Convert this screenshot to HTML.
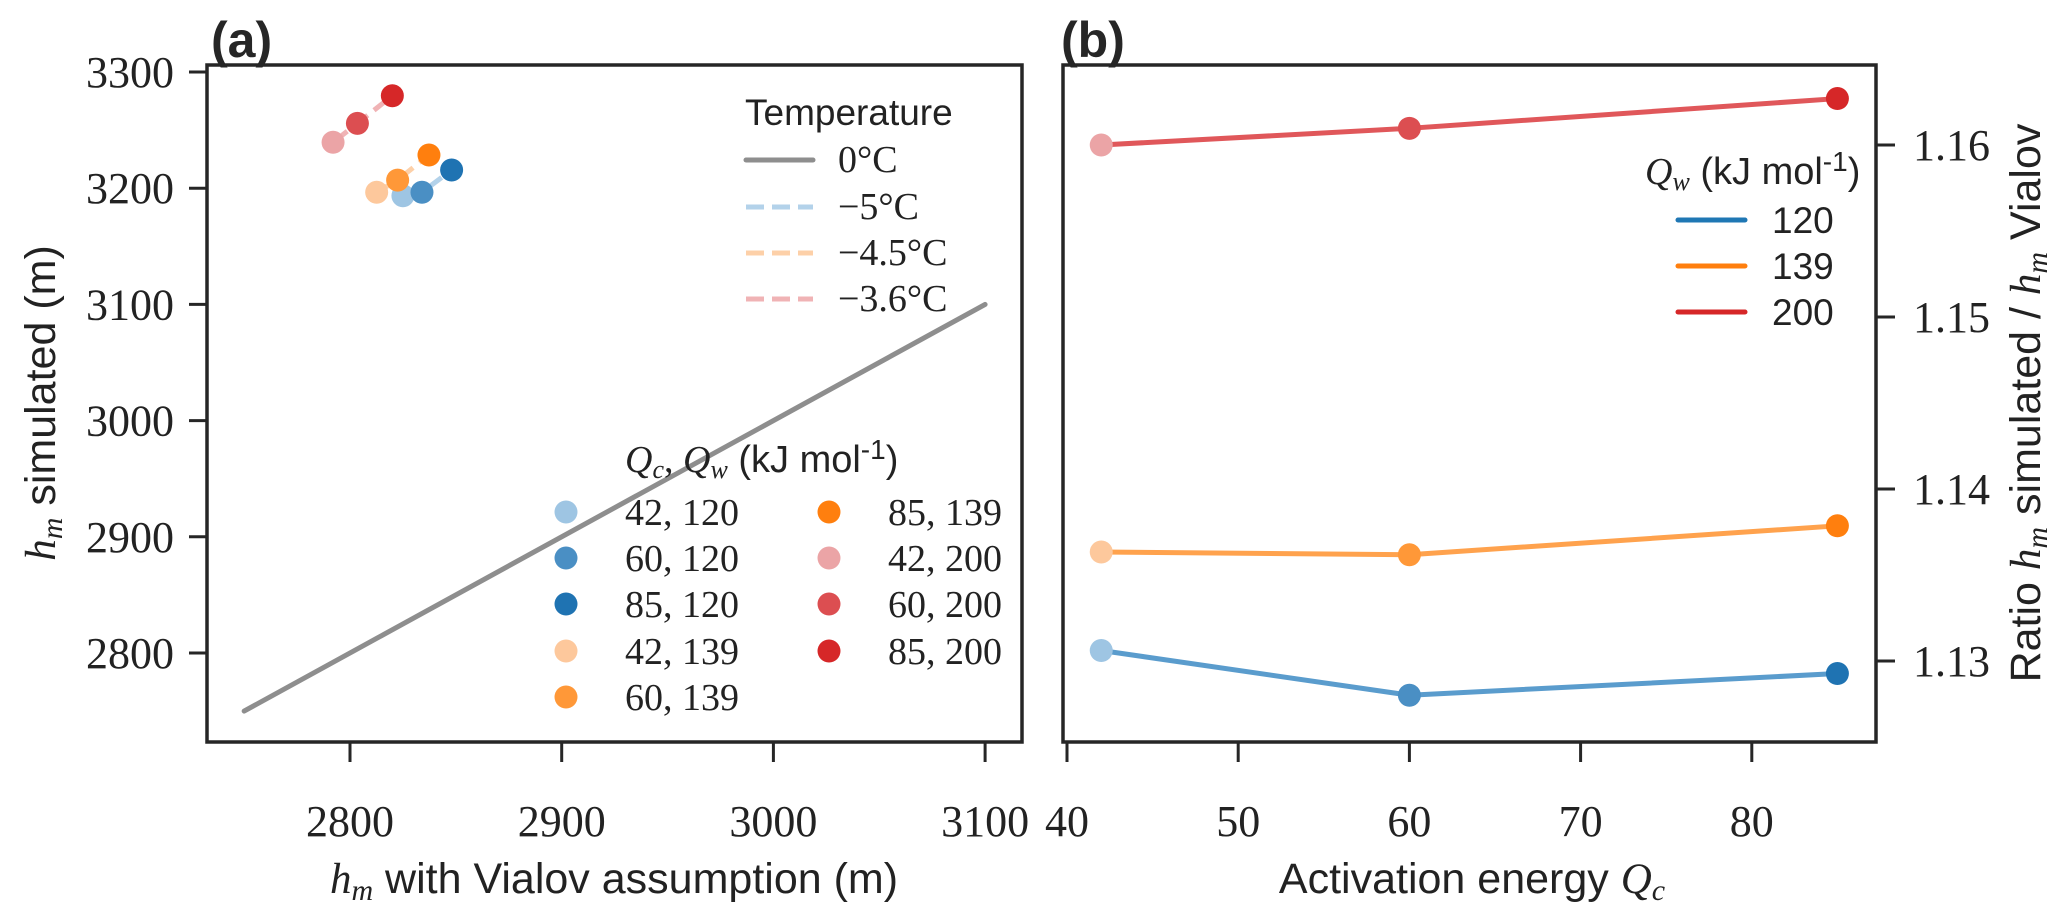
<!DOCTYPE html>
<html><head><meta charset="utf-8"><style>
html,body{margin:0;padding:0;background:#fff;}
svg{display:block;}
.tk{font-family:"Liberation Serif",serif;font-size:44px;fill:#222;}
.sans{font-family:"Liberation Sans",sans-serif;fill:#222;}
.ser{font-family:"Liberation Serif",serif;fill:#222;}
</style></head><body>
<svg id="chart" width="2067" height="921" viewBox="0 0 2067 921" xmlns="http://www.w3.org/2000/svg">
<g id="pa"></g>
<g id="pb"></g>
</svg>
<script>
// Panel (a) data
const groupsA = ["120","139","200"];
const qcA = [42,60,85];
const vialovA = [[2825,2834,2848],[2812.6,2822.5,2837.3],[2792,2803.5,2820]];
const simA = [[3193.5,3196.5,3215.7],[3196.5,3207,3228.6],[3239.5,3255.8,3279.6]];
const refLine = [2750,3100];
const xTicksA = [2800,2900,3000,3100];
const yTicksA = [2800,2900,3000,3100,3200,3300];
// Panel (b) data
const qcB = [42,60,85];
const ratio120 = [1.13061,1.12801,1.12927];
const ratio139 = [1.13634,1.13618,1.13786];
const ratio200 = [1.1600,1.16097,1.1627];
const xTicksB = [40,50,60,70,80];
const yTicksB = [1.13,1.14,1.15,1.16];
const tempLabels = ["0°C","−5°C","−4.5°C","−3.6°C"];

const NS="http://www.w3.org/2000/svg";
function mk(parent,tag,attrs,text){const e=document.createElementNS(NS,tag);for(const k in attrs)e.setAttribute(k,attrs[k]);if(text!==undefined)e.textContent=text;parent.appendChild(e);return e;}

const markerCols=[["#9ec5e3","#4a8fc4","#1f73b2"],["#fdc89c","#ff9838","#ff7f0e"],["#eba4a6","#dc4e51","#d62728"]];
const dashCols=["#b3d2ea","#fdd0a8","#f0b3b5"];
const lineColsB=["#5a9ccd","#ffa24d","#e0575a"];
const legLineB=["#1f77b4","#ff7f0e","#d62728"];

const xa=v=>350+(v-2800)*2.117;
const ya=v=>653-(v-2800)*1.162;
const pa=document.getElementById('pa');
let e;
e=mk(pa,'line',{x1:xa(refLine[0]),y1:ya(refLine[0]),x2:xa(refLine[1]),y2:ya(refLine[1]),stroke:'#8e8e8e','stroke-width':5,'stroke-linecap':'round'});


for(let g=0;g<3;g++){
  const pts=qcA.map((q,i)=>xa(vialovA[g][i])+','+ya(simA[g][i])).join(' ');
  e=mk(pa,'polyline',{points:pts,fill:'none',stroke:dashCols[g],'stroke-width':5,'stroke-dasharray':'18 8'});
  
  
  for(let i=0;i<3;i++){
    e=mk(pa,'circle',{cx:xa(vialovA[g][i]),cy:ya(simA[g][i]),r:11.5,fill:markerCols[g][i]});
    
    
  }
}
e=mk(pa,'rect',{x:207,y:65,width:815,height:677,fill:'none',stroke:'#262626','stroke-width':3.5});


xTicksA.forEach(v=>{
  e=mk(pa,'line',{x1:xa(v),y1:743,x2:xa(v),y2:762,stroke:'#262626','stroke-width':3});
  
  
  e=mk(pa,'text',{x:xa(v),y:836,'text-anchor':'middle',class:'tk'},String(v));
  
  
});
yTicksA.forEach(v=>{
  e=mk(pa,'line',{x1:189,y1:ya(v),x2:207,y2:ya(v),stroke:'#262626','stroke-width':3});
  
  
  e=mk(pa,'text',{x:174,y:ya(v)+15,'text-anchor':'end',class:'tk'},String(v));
  
  
});

const xb=q=>1067+(q-40)*17.12;
const yb=r=>145+(1.16-r)*17200;
const pb=document.getElementById('pb');
const seriesB=[ratio120,ratio139,ratio200];
for(let g=0;g<3;g++){
  const pts=qcB.map((q,i)=>xb(q)+','+yb(seriesB[g][i])).join(' ');
  e=mk(pb,'polyline',{points:pts,fill:'none',stroke:lineColsB[g],'stroke-width':5,'stroke-linejoin':'round'});
  
  
  for(let i=0;i<3;i++){
    e=mk(pb,'circle',{cx:xb(qcB[i]),cy:yb(seriesB[g][i]),r:11.5,fill:markerCols[g][i]});
    
    
  }
}
e=mk(pb,'rect',{x:1063,y:65,width:813,height:677,fill:'none',stroke:'#262626','stroke-width':3.5});


xTicksB.forEach(v=>{
  e=mk(pb,'line',{x1:xb(v),y1:743,x2:xb(v),y2:762,stroke:'#262626','stroke-width':3});
  
  
  e=mk(pb,'text',{x:xb(v),y:836,'text-anchor':'middle',class:'tk'},String(v));
  
  
});
yTicksB.forEach(v=>{
  e=mk(pb,'line',{x1:1876,y1:yb(v),x2:1895,y2:yb(v),stroke:'#262626','stroke-width':3});
  
  
  e=mk(pb,'text',{x:1913,y:yb(v)+15,'text-anchor':'start',class:'tk'},v.toFixed(2));
  
  
});

const tl=mk(pa,'g',{});


mk(tl,'text',{x:745,y:125,class:'sans','font-size':37},'Temperature');
const tRows=[160,207,253,299];
const tCols=['#8e8e8e',dashCols[0],dashCols[1],dashCols[2]];
tRows.forEach((y,i)=>{
  e=mk(tl,'line',{x1:746,y1:y,x2:813,y2:y,stroke:tCols[i],'stroke-width':5,'stroke-dasharray':i?'18 8':'none','stroke-linecap':i?'butt':'round'});
  
  
  e=mk(tl,'text',{x:i?838:838,y:y+12,class:'ser','font-size':38},tempLabels[i]);
  
  
});

const ql=mk(pa,'g',{});


const qt=mk(ql,'text',{x:625,y:472,'font-size':38});
mk(qt,'tspan',{class:'ser','font-style':'italic'},'Q');
mk(qt,'tspan',{class:'ser','font-style':'italic','font-size':26,dy:6},'c');
mk(qt,'tspan',{class:'ser',dy:-6},', ');
mk(qt,'tspan',{class:'ser','font-style':'italic'},'Q');
mk(qt,'tspan',{class:'ser','font-style':'italic','font-size':26,dy:6},'w');
mk(qt,'tspan',{class:'sans',dy:-6},'  (kJ mol');
mk(qt,'tspan',{class:'sans','font-size':28,dy:-13},'-1');
mk(qt,'tspan',{class:'sans',dy:13},')');
const qRows=[512,558,604,651,697];
const entries=[];
for(let g=0;g<3;g++)for(let i=0;i<3;i++)entries.push([g,i]);
entries.forEach((en,k)=>{
  const col=k<5?0:1,row=k<5?k:k-5;
  const mx=col?829:566, tx=col?888:625;
  e=mk(ql,'circle',{cx:mx,cy:qRows[row],r:11.5,fill:markerCols[en[0]][en[1]]});
  
  
  e=mk(ql,'text',{x:tx,y:qRows[row]+13,class:'ser','font-size':38},qcA[en[1]]+', '+groupsA[en[0]]);
  
  
});

const bl=mk(pb,'g',{});


const bt=mk(bl,'text',{x:1645,y:184,'font-size':38});
mk(bt,'tspan',{class:'ser','font-style':'italic'},'Q');
mk(bt,'tspan',{class:'ser','font-style':'italic','font-size':26,dy:6},'w');
mk(bt,'tspan',{class:'sans',dy:-6},'  (kJ mol');
mk(bt,'tspan',{class:'sans','font-size':28,dy:-13},'-1');
mk(bt,'tspan',{class:'sans',dy:13},')');
[220,266,312].forEach((y,i)=>{
  e=mk(bl,'line',{x1:1678,y1:y,x2:1745,y2:y,stroke:legLineB[i],'stroke-width':5,'stroke-linecap':'round'});
  
  
  e=mk(bl,'text',{x:1772,y:y+13,class:'sans','font-size':37},groupsA[i]);
  
  
});
</script>
<svg style="position:absolute;left:0;top:0" width="2067" height="921" xmlns="http://www.w3.org/2000/svg">
<text x="211" y="57" font-family="Liberation Sans, sans-serif" font-weight="bold" font-size="50" fill="#262626">(a)</text>
<text x="1061" y="57" font-family="Liberation Sans, sans-serif" font-weight="bold" font-size="50" fill="#262626">(b)</text>
<text x="614" y="893" text-anchor="middle" font-size="43" fill="#222"><tspan font-family="Liberation Serif, serif" font-style="italic">h</tspan><tspan font-family="Liberation Serif, serif" font-style="italic" font-size="30" dy="7">m</tspan><tspan font-family="Liberation Sans, sans-serif" dy="-7"> with Vialov assumption (m)</tspan></text>
<text x="1472" y="893" text-anchor="middle" font-size="43" fill="#222"><tspan font-family="Liberation Sans, sans-serif">Activation energy </tspan><tspan font-family="Liberation Serif, serif" font-style="italic">Q</tspan><tspan font-family="Liberation Serif, serif" font-style="italic" font-size="30" dy="7">c</tspan></text>
<text transform="translate(55,403) rotate(-90)" text-anchor="middle" font-size="43" fill="#222"><tspan font-family="Liberation Serif, serif" font-style="italic">h</tspan><tspan font-family="Liberation Serif, serif" font-style="italic" font-size="30" dy="7">m</tspan><tspan font-family="Liberation Sans, sans-serif" dy="-7"> simulated (m)</tspan></text>
<text transform="translate(2040,403) rotate(-90)" text-anchor="middle" font-size="43" fill="#222"><tspan font-family="Liberation Sans, sans-serif">Ratio </tspan><tspan font-family="Liberation Serif, serif" font-style="italic">h</tspan><tspan font-family="Liberation Serif, serif" font-style="italic" font-size="30" dy="7">m</tspan><tspan font-family="Liberation Sans, sans-serif" dy="-7"> simulated / </tspan><tspan font-family="Liberation Serif, serif" font-style="italic">h</tspan><tspan font-family="Liberation Serif, serif" font-style="italic" font-size="30" dy="7">m</tspan><tspan font-family="Liberation Sans, sans-serif" dy="-7"> Vialov</tspan></text>
</svg>
</body></html>
